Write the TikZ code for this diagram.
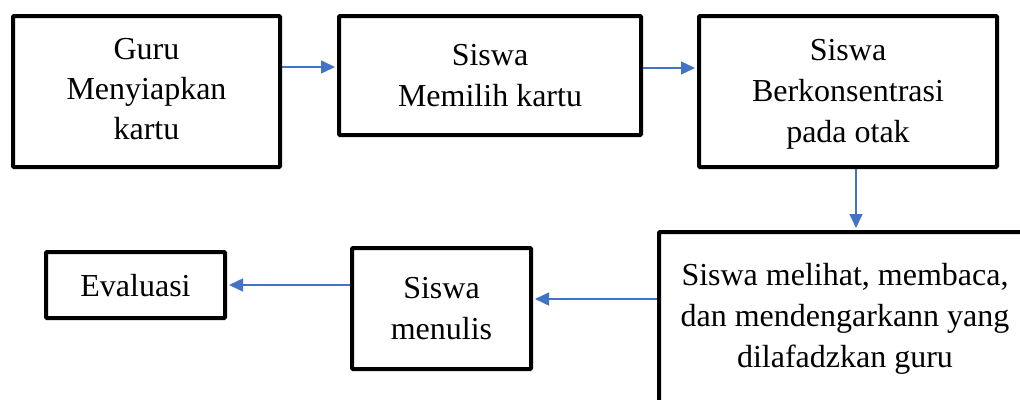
\documentclass[tikz,border=0pt]{standalone}
\usepackage{fontspec}
\setmainfont{Liberation Serif}
\usetikzlibrary{arrows.meta}
\definecolor{flowblue}{RGB}{68,114,196}
\tikzset{
  stepbox/.style={draw=black, line width=4pt, rounded corners=1pt, fill=white,
    inner sep=0pt, minimum width=#1},
  stepbox/.default=10pt,
  txt/.style={inner sep=0pt, align=center, anchor=north,
    font=\fontsize{32}{41}\selectfont},
  flow/.style={draw=flowblue, line width=1.5pt,
    -{Triangle[length=14pt,width=13pt]}, shorten >=2pt},
}
\begin{document}
\begin{tikzpicture}[x=1pt, y=-1pt]
  \useasboundingbox (0,0) rectangle (1020,399);
  \clip (0,0) rectangle (1020,399);

  % boxes (centre, border-path size)
  \node[stepbox=267pt, minimum height=151pt] (b1) at (146.5,91.5) {};
  \node[stepbox=302pt, minimum height=119pt] (b2) at (490,75.5) {};
  \node[stepbox=298pt, minimum height=151pt] (b3) at (848,91.5) {};
  \node[stepbox=376pt, minimum height=228pt] (b4) at (847,346) {};
  \node[stepbox=179pt, minimum height=121pt] (b5) at (441.5,308.5) {};
  \node[stepbox=179pt, minimum height=66pt]  (b6) at (135.5,285) {};

  % box texts (north = first baseline - strut height)
  \node[txt, font=\fontsize{32}{40}\selectfont] (t1) at (146.5,31) {\strut Guru\\Menyiapkan\\kartu};
  \node[txt] (t2) at (490,36.3) {\strut Siswa\\Memilih kartu};
  \node[txt] (t3) at (848,31.3) {\strut Siswa\\Berkonsentrasi\\pada otak};
  \node[txt] (t4) at (845,256.3) {\strut Siswa melihat, membaca,\\dan mendengarkann yang\\dilafadzkan guru};
  \node[txt] (t5) at (441.5,269.8) {\strut Siswa\\menulis};
  \node[txt] (t6) at (135.5,267.3) {\strut Evaluasi};

  % connector levels
  \coordinate (r1) at (0,67);
  \coordinate (r2) at (0,68);
  \coordinate (c3) at (856,0);
  \coordinate (r4) at (0,299);
  \coordinate (r5) at (0,285);

  % connectors
  \draw[flow] (b1.east |- r1) -- (b2.west |- r1);
  \draw[flow] (b2.east |- r2) -- (b3.west |- r2);
  \draw[flow] (c3 |- b3.south) -- (c3 |- b4.north);
  \draw[flow] (b4.west |- r4) -- (b5.east |- r4);
  \draw[flow] (b5.west |- r5) -- (b6.east |- r5);
\end{tikzpicture}
\end{document}
